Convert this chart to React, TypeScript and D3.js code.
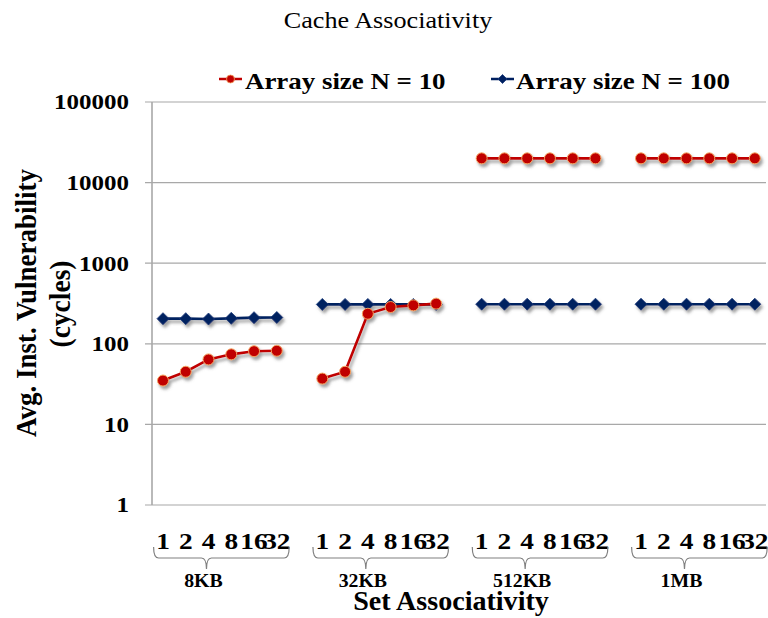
import React from "react";
import * as d3 from "d3";

// Chart data
const title = "Cache Associativity";
const cacheSizes = ["8KB", "32KB", "512KB", "1MB"];
const associativity = ["1", "2", "4", "8", "16", "32"];
const seriesNames = ["Array size N = 10", "Array size N = 100"];
const arraySize10 = [
  [35, 45, 64, 74, 81, 82],
  [37, 45, 236, 286, 300, 315],
  [20000, 20000, 20000, 20000, 20000, 20000],
  [20000, 20000, 20000, 20000, 20000, 20000],
];
const arraySize100 = [
  [205, 205, 203, 207, 211, 212],
  [308, 308, 308, 308, 308, 308],
  [310, 310, 310, 310, 310, 310],
  [310, 310, 310, 310, 310, 310],
];
const yTicks = [1, 10, 100, 1000, 10000, 100000];
const yTitle = ["Avg. Inst. Vulnerability", "(cycles)"];
const xTitle = "Set Associativity";

const W = 768;
const H = 618;
const FONT = "Liberation Serif, Times New Roman, Times, DejaVu Serif, serif";
const RED = "#C00000";
const BLUE = "#002060";
const GRID = "#A8A8A8";

// slot keys: six associativity slots per cache size, one empty slot between sizes
const slotKeys: string[] = [];
cacheSizes.forEach((g, gi) => {
  associativity.forEach((a) => slotKeys.push(`${g}|${a}`));
  if (gi < cacheSizes.length - 1) slotKeys.push(`gap${gi}`);
});

const x = d3.scaleBand<string>().domain(slotKeys).range([151.6, 766.2]).padding(0);
const y = d3.scaleLog().domain([1, 100000]).range([505, 102]);
const cx = (k: string) => (x(k) as number) + x.bandwidth() / 2;

const line = d3
  .line<[number, number]>()
  .x((d) => d[0])
  .y((d) => d[1]);

function bracePath(x0: number, x1: number, tip: number, y0: number, y1: number, y2: number) {
  const r = 5;
  return [
    `M${x0},${y0}`,
    `Q${x0},${y1} ${x0 + r},${y1}`,
    `L${tip - r},${y1}`,
    `Q${tip},${y1} ${tip},${y2}`,
    `Q${tip},${y1} ${tip + r},${y1}`,
    `L${x1 - r},${y1}`,
    `Q${x1},${y1} ${x1},${y0}`,
  ].join(" ");
}

function Diamond({ x: px, y: py, s }: { x: number; y: number; s: number }) {
  return (
    <path
      d={`M${px},${py - s} L${px + s},${py} L${px},${py + s} L${px - s},${py} Z`}
      fill={BLUE}
      stroke="#1A3A7A"
      strokeWidth={0.8}
    />
  );
}

const txt = { fontFamily: FONT } as React.CSSProperties;

export default function App() {
  const groupPoints = (vals: number[][]) =>
    cacheSizes.map((g, gi) =>
      associativity.map((a, ai) => [cx(`${g}|${a}`), y(vals[gi][ai])] as [number, number])
    );
  const red = groupPoints(arraySize10);
  const blue = groupPoints(arraySize100);

  return (
    <svg
      width={W}
      height={H}
      style={{ position: "absolute", left: 0, top: 0, background: "#fff", fontFamily: FONT }}
    >
      <defs>
        <filter id="shadow" x="-50%" y="-50%" width="200%" height="200%">
          <feDropShadow dx="2" dy="3" stdDeviation="1.6" floodColor="#555" floodOpacity="0.55" />
        </filter>
      </defs>

      {/* title */}
      <g transform={`translate(388,28) scale(1.09,1)`}>
        <text textAnchor="middle" fontSize={24} fill="#000" style={txt}>
          {title}
        </text>
      </g>

      {/* legend */}
      <g>
        <line x1={219} x2={242} y1={79} y2={79} stroke={RED} strokeWidth={2.5} />
        <circle cx={230.5} cy={79} r={4} fill={RED} stroke="#F4A460" strokeWidth={0.8} />
        <g transform={`translate(245,88.5) scale(1.17,1)`}>
          <text fontSize={23} fontWeight="bold" fill="#000" style={txt}>
            {seriesNames[0]}
          </text>
        </g>
        <line x1={491} x2={514} y1={79} y2={79} stroke={BLUE} strokeWidth={2.5} />
        <Diamond x={502.5} y={79} s={4.5} />
        <g transform={`translate(516,88.5) scale(1.17,1)`}>
          <text fontSize={23} fontWeight="bold" fill="#000" style={txt}>
            {seriesNames[1]}
          </text>
        </g>
      </g>

      {/* grid lines and y ticks */}
      {yTicks.map((t) => (
        <g key={t}>
          <line x1={145} x2={766} y1={y(t)} y2={y(t)} stroke={GRID} strokeWidth={1.2} />
          <g transform={`translate(129,${y(t)}) scale(1.19,1)`}>
            <text textAnchor="end" dy="0.35em" fontSize={21} fontWeight="bold" fill="#000" style={txt}>
              {t}
            </text>
          </g>
        </g>
      ))}
      {/* y axis line */}
      <line x1={152} x2={152} y1={102} y2={505} stroke={GRID} strokeWidth={1.6} />

      {/* y axis title */}
      <g transform={`translate(36,303) scale(1.1,1) rotate(-90)`}>
        <text textAnchor="middle" fontSize={27} fontWeight="bold" fill="#000" style={txt}>
          {yTitle[0]}
        </text>
      </g>
      <g transform={`translate(70,304) scale(1.1,1) rotate(-90)`}>
        <text textAnchor="middle" fontSize={27.5} fontWeight="bold" fill="#000" style={txt}>
          {yTitle[1]}
        </text>
      </g>

      {/* series */}
      <g filter="url(#shadow)">
        {blue.map((pts, gi) => (
          <g key={`b${gi}`}>
            <path d={line(pts) as string} fill="none" stroke={BLUE} strokeWidth={2.6} />
            {pts.map((p, i) => (
              <Diamond key={i} x={p[0]} y={p[1]} s={6} />
            ))}
          </g>
        ))}
        {red.map((pts, gi) => (
          <g key={`r${gi}`}>
            <path d={line(pts) as string} fill="none" stroke={RED} strokeWidth={2.6} />
            {pts.map((p, i) => (
              <circle key={i} cx={p[0]} cy={p[1]} r={5.5} fill={RED} stroke="#F4A460" strokeWidth={1} />
            ))}
          </g>
        ))}
      </g>

      {/* x tick labels, braces and cache size labels */}
      {cacheSizes.map((g) => {
        const first = x(`${g}|${associativity[0]}`) as number;
        const last = (x(`${g}|${associativity[associativity.length - 1]}`) as number) + x.bandwidth();
        const x0 = first + 2;
        const x1 = last + 1;
        const tip = x0 + (x1 - x0) * 0.39;
        return (
          <g key={g}>
            {associativity.map((a) => (
              <g key={a} transform={`translate(${cx(`${g}|${a}`)},549) scale(1.19,1)`}>
                <text textAnchor="middle" fontSize={23} fontWeight="bold" fill="#000" style={txt}>
                  {a}
                </text>
              </g>
            ))}
            <path d={bracePath(x0, x1, tip, 547, 558, 569)} fill="none" stroke="#808080" strokeWidth={1.2} />
            <g transform={`translate(${tip - 3},587) scale(1.1,1)`}>
              <text textAnchor="middle" fontSize={18} fontWeight="bold" fill="#000" style={txt}>
                {g}
              </text>
            </g>
          </g>
        );
      })}

      {/* x axis title */}
      <g transform={`translate(451,610) scale(1.04,1)`}>
        <text textAnchor="middle" fontSize={27} fontWeight="bold" fill="#000" style={txt}>
          {xTitle}
        </text>
      </g>
    </svg>
  );
}
